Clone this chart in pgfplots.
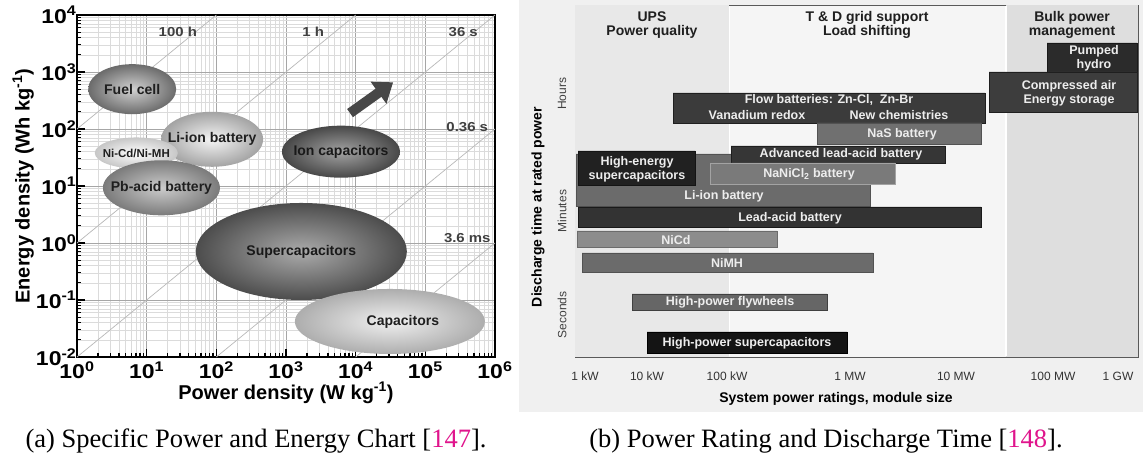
\documentclass[border=0pt]{standalone}
\usepackage{pgfplots}
\pgfplotsset{compat=1.18}
\usepackage{fontspec}
\setmainfont{Liberation Serif}
\setsansfont{Liberation Sans}
\usepackage{graphicx}
\usetikzlibrary{shapes.geometric, arrows.meta}
\definecolor{citepink}{rgb}{0.88,0.08,0.55}
\newcommand{\fs}[1]{\fontsize{#1}{#1}\selectfont}
\newcommand{\sx}[1]{\scalebox{1.15}[1]{#1}}
\newcommand{\ten}[1]{\sx{10\textsuperscript{#1}}}
\newcommand{\zb}[1]{\makebox[0pt]{#1}}

\begin{document}
\begin{tikzpicture}
\useasboundingbox (0,0) rectangle (1143pt,460pt);
\fill[white] (0,0) rectangle (1143pt,460pt);
\fill[black!6] (519pt,48pt) rectangle (1143pt,460pt);

%================ LEFT CHART ================
\begin{axis}[
  at={(77pt,103pt)}, anchor=south west, scale only axis,
  width=418pt, height=342pt,
  xmode=log, ymode=log, xmin=1, xmax=1e6, ymin=1e-2, ymax=1e4,
  grid=both,
  major grid style={black!35, line width=0.7pt},
  minor grid style={black!14, line width=0.45pt},
  axis line style={line width=1.8pt},
  tick pos=left, tick align=inside,
  major tick length=8pt, minor tick length=4.5pt,
  every tick/.style={black, line width=1.3pt},
  xtick={1,10,100,1000,10000,100000,1000000},
  xticklabels={\ten{0},\ten{1},\ten{2},\ten{3},\ten{4},\ten{5},\ten{6}},
  ytick={0.01,0.1,1,10,100,1000,10000},
  yticklabels={\ten{-2},\ten{-1},\ten{0},\ten{1},\ten{2},\ten{3},\ten{4}},
  xticklabel style={font=\sffamily\bfseries\fs{20}, yshift=-1pt},
  yticklabel style={font=\sffamily\bfseries\fs{20}, xshift=3pt},
  xlabel={Power density (W kg\textsuperscript{-1})},
  ylabel={Energy density (Wh kg\textsuperscript{-1})},
  xlabel style={font=\sffamily\bfseries\fs{20}, at={(axis description cs:0.5,0)}, anchor=center, yshift=-36pt},
  ylabel style={font=\sffamily\bfseries\fs{20}, at={(axis description cs:-0.129,0.5)}, anchor=center},
  clip=false,
]
% constant discharge-time lines
\addplot[black!28, line width=0.7pt] coordinates {(1,100) (100,10000)};
\addplot[black!28, line width=0.7pt] coordinates {(1,1) (10000,10000)};
\addplot[black!28, line width=0.7pt] coordinates {(1,0.01) (1000000,10000)};
\addplot[black!28, line width=0.7pt] coordinates {(100,0.01) (1000000,100)};
\addplot[black!28, line width=0.7pt] coordinates {(10000,0.01) (1000000,1)};

% technology regions
\addplot[draw=none, mark=none, nodes near coords={\zb{Fuel cell}}, nodes near coords align={center},
  every node near coord/.append style={ellipse, anchor=center, inner sep=0pt, minimum width=88pt, minimum height=50pt,
  inner color=black!18, outer color=black!58, font=\sffamily\bfseries\fs{14}, text=black!88}]
  coordinates {(6.2,500)};
\addplot[draw=none, mark=none, nodes near coords={\zb{Li-ion battery}}, nodes near coords align={center},
  every node near coord/.append style={ellipse, anchor=center, inner sep=0pt, minimum width=102pt, minimum height=55pt,
  inner color=black!4, outer color=black!36, font=\sffamily\bfseries\fs{14}, text=black!88}]
  coordinates {(87,66)};
\addplot[draw=none, mark=none, nodes near coords={\zb{Ni-Cd/Ni-MH}}, nodes near coords align={center},
  every node near coord/.append style={ellipse, anchor=center, inner sep=0pt, minimum width=83pt, minimum height=31pt,
  inner color=white, outer color=black!22, font=\sffamily\bfseries\fs{11.5}, text=black!88}]
  coordinates {(7.1,38)};
\addplot[draw=none, mark=none, nodes near coords={\zb{Pb-acid battery}}, nodes near coords align={center},
  every node near coord/.append style={ellipse, anchor=center, inner sep=0pt, minimum width=117pt, minimum height=55pt,
  inner color=black!20, outer color=black!52, font=\sffamily\bfseries\fs{14}, text=black!88}]
  coordinates {(16.3,9.3)};
\addplot[draw=none, mark=none, nodes near coords={\zb{Ion capacitors}}, nodes near coords align={center},
  every node near coord/.append style={ellipse, anchor=center, inner sep=0pt, minimum width=118pt, minimum height=52pt,
  inner color=black!36, outer color=black!72, font=\sffamily\bfseries\fs{14}, text=black!90}]
  coordinates {(6150,40)};
\addplot[draw=none, mark=none, nodes near coords={\zb{Supercapacitors}}, nodes near coords align={center},
  every node near coord/.append style={ellipse, anchor=center, inner sep=0pt, minimum width=211pt, minimum height=97pt,
  inner color=black!33, outer color=black!70, font=\sffamily\bfseries\fs{14}, text=black!90}]
  coordinates {(1660,0.71)};
\addplot[draw=none, mark=none, nodes near coords={\zb{\hspace{26pt}Capacitors}}, nodes near coords align={center},
  every node near coord/.append style={ellipse, anchor=center, inner sep=0pt, minimum width=190pt, minimum height=65pt,
  inner color=black!6, outer color=black!32, font=\sffamily\bfseries\fs{14}, text=black!88}]
  coordinates {(31000,0.042)};

% arrow
\addplot[black!72, line width=10pt, -{Triangle[length=18pt, width=26pt]}] coordinates {(8300,190) (34500,660)};

% time labels
\node[font=\sffamily\bfseries\fs{13}, text=black!75] at (axis cs:28,5000) {\sx{100 h}};
\node[font=\sffamily\bfseries\fs{13}, text=black!75] at (axis cs:2450,5000) {\sx{1 h}};
\node[font=\sffamily\bfseries\fs{13}, text=black!75] at (axis cs:350000,5000) {\sx{36 s}};
\node[font=\sffamily\bfseries\fs{13}, text=black!75] at (axis cs:400000,110) {\sx{0.36 s}};
\node[font=\sffamily\bfseries\fs{13}, text=black!75] at (axis cs:400000,1.23) {\sx{3.6 ms}};
\end{axis}

%================ RIGHT CHART ================
\begin{axis}[
  at={(575pt,103pt)}, anchor=south west, scale only axis,
  width=563pt, height=352pt,
  xmin=575, xmax=1138, ymin=103, ymax=455,
  axis line style={black!65, line width=0.8pt},
  axis background/.style={fill=black!4},
  xtick={585,647,727,850,956,1053,1118},
  xticklabels={1 kW,10 kW,100 kW,1 MW,10 MW,100 MW,1 GW},
  ytick=\empty, major tick length=0pt, tick style={draw=none},
  xticklabel style={font=\sffamily\fs{12}, text=black!80, anchor=center, yshift=-19pt},
  xlabel={System power ratings, module size},
  xlabel style={font=\sffamily\bfseries\fs{14}, at={(axis description cs:0.4636,0)}, anchor=center, yshift=-42pt},
  ylabel={Discharge time at rated power},
  ylabel style={font=\sffamily\bfseries\fs{14}, at={(axis description cs:-0.0657,0.426)}, anchor=center},
  clip=false,
]
% regions
\addplot[fill=black!9, draw=none] coordinates {(575,103) (729,103) (729,455) (575,455)};
\addplot[fill=black!13, draw=none] coordinates {(1006,103) (1138,103) (1138,455) (1006,455)};
\addplot[white, line width=1.5pt] coordinates {(1006,104) (1006,454)};
\addplot[white, line width=0.8pt] coordinates {(729,104) (729,454)};

% bars
\addplot[fill=black!58, draw=black!68, line width=0.6pt] coordinates {(576,254) (870,254) (870,306) (576,306) (576,254)};
\addplot[fill=black!77, draw=black!88, line width=0.6pt] coordinates {(673,337) (985,337) (985,367) (673,367) (673,337)};
\addplot[fill=black!56, draw=black!68, line width=0.6pt] coordinates {(817,316) (981,316) (981,337) (817,337) (817,316)};
\addplot[fill=black!79, draw=black!88, line width=0.6pt] coordinates {(731,297) (945,297) (945,314) (731,314) (731,297)};
\addplot[fill=black!52, draw=black!36, line width=0.8pt] coordinates {(710,276) (895,276) (895,297) (710,297) (710,276)};
\addplot[fill=black!87, draw=black!92, line width=0.6pt] coordinates {(578,275) (695,275) (695,309) (578,309) (578,275)};
\addplot[fill=black!80, draw=black!90, line width=0.6pt] coordinates {(578,233) (981,233) (981,253) (578,253) (578,233)};
\addplot[fill=black!45, draw=black!58, line width=0.6pt] coordinates {(577,213) (777,213) (777,229) (577,229) (577,213)};
\addplot[fill=black!58, draw=black!68, line width=0.6pt] coordinates {(582,188) (873,188) (873,207) (582,207) (582,188)};
\addplot[fill=black!60, draw=black!75, line width=0.6pt] coordinates {(632,150) (827,150) (827,166) (632,166) (632,150)};
\addplot[fill=black!92, draw=black, line width=0.6pt] coordinates {(647,107) (847,107) (847,128) (647,128) (647,107)};
\addplot[fill=black!83, draw=black!90, line width=0.6pt] coordinates {(1047,388) (1137,388) (1137,417) (1047,417) (1047,388)};
\addplot[fill=black!76, draw=black!88, line width=0.6pt] coordinates {(989,348) (1137,348) (1137,388) (989,388) (989,348)};

% region headings
\node[align=center, font=\sffamily\bfseries\fontsize{14}{14}\selectfont, text=black!88] at (axis cs:652,435) {UPS\\Power quality};
\node[align=center, font=\sffamily\bfseries\fontsize{14}{14}\selectfont, text=black!88] at (axis cs:867,435) {T \& D grid support\\Load shifting};
\node[align=center, font=\sffamily\bfseries\fontsize{14}{14}\selectfont, text=black!88] at (axis cs:1072,435) {Bulk power\\management};

% time-scale labels
\node[rotate=90, font=\sffamily\fs{12}, text=black!75] at (axis cs:562,366) {Hours};
\node[rotate=90, font=\sffamily\fs{12}, text=black!75] at (axis cs:562,249) {Minutes};
\node[rotate=90, font=\sffamily\fs{12}, text=black!75] at (axis cs:562,145) {Seconds};

% bar labels
\tikzset{bl/.style={font=\sffamily\bfseries\fontsize{12.5}{14}\selectfont, text=black!7, align=center}}
\node[bl] at (axis cs:829,360) {Flow batteries: Zn-Cl,\ \ Zn-Br};
\node[bl] at (axis cs:757,345) {Vanadium redox};
\node[bl] at (axis cs:899,345) {New chemistries};
\node[bl] at (axis cs:902,326) {NaS battery};
\node[bl] at (axis cs:841,306) {Advanced lead-acid battery};
\node[bl] at (axis cs:809,286) {NaNiCl\textsubscript{2} battery};
\node[bl] at (axis cs:724,264) {Li-ion battery};
\node[bl] at (axis cs:637,291) {High-energy\\supercapacitors};
\node[bl] at (axis cs:790,242) {Lead-acid battery};
\node[bl] at (axis cs:676,220) {NiCd};
\node[bl] at (axis cs:727,197) {NiMH};
\node[bl] at (axis cs:730,158) {High-power flywheels};
\node[bl] at (axis cs:747,117) {High-power supercapacitors};
\node[bl] at (axis cs:1094,402) {Pumped\\hydro};
\node[bl] at (axis cs:1069,367) {Compressed air\\Energy storage};
\end{axis}

% captions
\node[font=\fs{26.5}, anchor=base] at (256pt,12pt) {(a) Specific Power and Energy Chart [\textcolor{citepink}{147}].};
\node[font=\fs{26.5}, anchor=base] at (826pt,12pt) {(b) Power Rating and Discharge Time [\textcolor{citepink}{148}].};
\end{tikzpicture}
\end{document}
